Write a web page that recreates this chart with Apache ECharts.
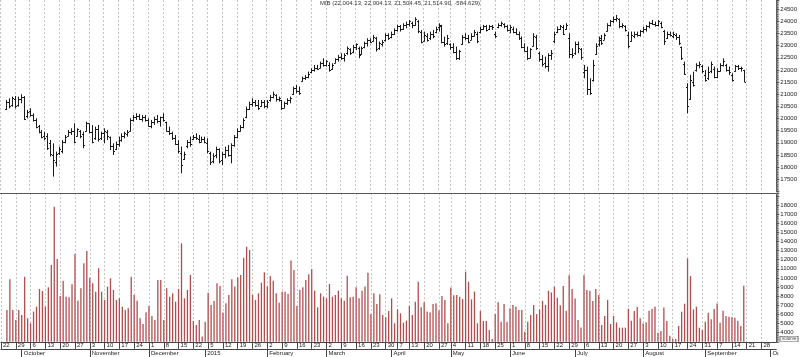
<!DOCTYPE html>
<html><head><meta charset="utf-8">
<script src="https://cdn.jsdelivr.net/npm/echarts@6/dist/echarts.min.js"></script>
<style>html,body{margin:0;padding:0;background:#fff}#c{width:800px;height:357px}</style>
</head><body><div id="c"></div>
<script>
// ---- calendar (categories: trading days of Borsa Italiana) ----
const firstDay = '2014-09-22';
const lastDay = '2015-10-05';
const holidays = ['2014-12-24','2014-12-25','2014-12-26','2014-12-31','2015-01-01','2015-04-03','2015-04-06','2015-05-01'];
const dataStart = '2014-09-24'; // first day that has values below
const monthNames = ['2015','February','March','April','May','June','July','August','September','October','November','December'];
const titleText = 'MIB (22,004.13, 22,004.13, 21,504.45, 21,514.90, -584.629)';

// ---- daily values from 2014-09-24 to 2015-09-18 ----
const opens = [
20400,20700,20550,20800,20550,20800,20900,20100,20300,20150,
19950,19700,19450,19300,19300,19000,18500,18200,18600,18650,
19050,19300,19450,19500,19300,19500,19350,19500,19800,19450,
19200,19550,19200,19400,19450,19250,18850,18750,18950,19100,
19300,19350,19500,19950,20050,20100,20000,20080,19950,19700,
19850,20000,19900,20050,19850,19500,19400,19200,18950,18600,
18350,18850,19050,19150,19250,19150,19050,19150,19000,18600,
18250,18500,18750,18300,18550,18700,18500,18900,19250,19500,
19650,20050,20400,20600,20700,20550,20500,20700,20500,20750,
20900,20950,20800,20750,20450,20650,20750,21000,21250,21150,
21550,21650,21700,21900,22000,22100,22100,22300,22200,22200,
22050,22300,22450,22550,22500,22700,22850,22750,22950,22900,
22650,22950,23100,23250,23200,23300,22900,23050,23250,23450,
23350,23500,23650,23800,23700,23850,23900,23950,23850,24000,
23550,23200,23400,23300,23500,23550,23750,23800,23150,23100,
23050,22950,22750,22500,23050,23350,23300,23250,23400,23500,
23550,23700,23800,23700,23800,23500,23750,23850,23900,23800,
23650,23700,23550,23500,23300,22950,22800,22500,23000,23350,
22700,22450,22300,22150,22600,23200,23550,23700,23750,23700,
23300,22650,22700,23050,22850,21900,22000,21200,21600,22650,
23050,23250,23250,23600,23850,24000,24100,24100,23800,23800,
23450,23200,23400,23500,23450,23600,23700,23800,23950,23900,
23850,23950,23600,23300,23500,23400,23450,23350,22950,22250,
21300,20800,21500,22000,22200,22150,21800,21650,21950,22050,
21700,21950,22200,22200,22000,21800,21950,22150,22100,22004.13];
const highs = [
20765,20830,20900,20930,20900,20998,20920,20353,20420,20216,
20010,19735,19529,19460,19392,19117,18980,18637,18843,19117,
19323,19529,19598,19804,19598,19529,19460,19872,19804,19735,
19667,19735,19460,19598,19529,19255,18980,19050,19255,19392,
19460,19529,20010,20147,20216,20190,20147,20147,20010,19941,
20078,20147,20078,20216,19872,19667,19460,19323,19117,18843,
18637,19117,19255,19323,19392,19323,19255,19255,19186,18637,
18568,18843,18775,18637,18843,18912,18980,19323,19598,19735,
20010,20490,20696,20833,20765,20765,20765,20760,20765,20970,
21108,21000,20902,20765,20696,20833,20902,21314,21383,21314,
21726,21795,21932,22070,22207,22207,22344,22481,22413,22320,
22276,22481,22619,22687,22687,22962,22893,23030,23099,22960,
22962,23168,23305,23305,23442,23360,23168,23236,23511,23511,
23580,23717,23854,23854,23923,23992,24060,23992,24170,24050,
23648,23580,23511,23580,23648,23786,23923,23854,23374,23442,
23099,23099,22962,22825,23442,23511,23442,23511,23648,23580,
23786,23854,23854,23854,23854,23580,23923,23992,23923,23854,
23854,23786,23717,23580,23380,23099,22962,22893,23511,23442,
22756,22619,22550,22687,22825,23580,23786,23854,23854,23923,
23511,22893,23168,23168,22900,22207,22138,21657,22413,23099,
23374,23442,23511,23923,24060,24198,24266,24120,23923,23840,
23580,23580,23580,23580,23648,23786,23854,23992,24060,23992,
24060,23992,23648,23580,23580,23580,23511,23442,22962,22344,
21451,21795,21932,22276,22344,22207,22001,22138,22344,22138,
22070,22276,22481,22250,22138,21864,22207,22207,22138,22004.13];
const lows = [
20353,20420,20490,20420,20490,20628,19941,20010,20078,19873,
19598,19392,19186,19117,18706,18431,17607,18019,18500,18568,
18980,19255,19323,18980,19255,19186,18775,19460,19392,18980,
19117,19050,19117,18980,19117,18706,18500,18706,18843,19050,
19186,19255,19460,19873,19941,19941,19873,19873,19667,19598,
19735,19804,19667,19873,19460,19323,19117,18912,18568,17745,
18294,18775,18843,19117,19117,18980,19020,18980,18568,18088,
18156,18363,18156,18088,18363,18431,18156,18843,19186,19460,
19598,20010,20353,20490,20490,20353,20490,20422,20422,20696,
20833,20696,20696,20353,20422,20559,20628,20970,21039,20970,
21520,21589,21657,21864,21932,22001,22070,22138,22138,21932,
22001,22276,22344,22413,22344,22619,22619,22687,22825,22481,
22619,22893,22962,23099,23168,22756,22825,22962,23168,23236,
23305,23442,23580,23580,23648,23717,23786,23717,23820,23511,
23099,23168,23168,23236,23305,23511,23580,23099,22962,23030,
22825,22687,22413,22413,23030,23236,23099,23236,23374,23099,
23511,23648,23580,23648,23648,23305,23717,23786,23717,23580,
23511,23511,23442,23236,22893,22756,22413,22481,22962,22825,
22344,22138,22070,21932,22413,23099,23511,23648,23442,23648,
22481,22481,22619,22687,22413,21657,20970,20970,21520,22619,
22962,23030,23236,23580,23786,23923,23992,23717,23717,23580,
22893,23168,23305,23374,23374,23511,23580,23717,23854,23786,
23786,23717,23030,23280,23374,23305,23236,23030,22413,21795,
20216,20765,21314,21932,22070,21864,21520,21589,21864,21657,
21657,21932,22138,21932,21795,21520,21932,22001,21932,21504.45];
const closes = [
20700,20500,20850,20500,20800,20900,20000,20250,20150,19950,
19650,19450,19250,19200,18800,18550,18300,18550,18750,19050,
19250,19450,19500,19050,19550,19300,18900,19800,19450,19050,
19550,19150,19400,19500,19300,18850,18650,18950,19100,19300,
19400,19450,19950,20050,20100,20000,20080,19950,19700,19850,
20000,19900,20050,19950,19500,19400,19200,18950,18650,18100,
18550,19050,18950,19250,19200,19050,19150,19050,18650,18200,
18450,18750,18250,18550,18700,18500,18900,19250,19500,19650,
19950,20400,20600,20700,20550,20450,20700,20500,20700,20900,
21000,20800,20850,20450,20650,20750,20850,21250,21150,21050,
21650,21700,21850,22000,22100,22050,22300,22200,22350,22000,
22200,22450,22550,22500,22600,22900,22700,22950,23050,22600,
22900,23100,23250,23150,23350,22850,23100,23150,23450,23300,
23500,23650,23800,23700,23850,23900,24000,23850,24100,23600,
23150,23450,23250,23500,23400,23700,23850,23150,23050,23300,
22950,22750,22500,22800,23350,23300,23150,23400,23550,23200,
23700,23800,23650,23800,23750,23400,23850,23950,23800,23650,
23750,23550,23500,23300,22950,22800,22500,22850,23400,22900,
22450,22250,22150,22600,22700,23500,23700,23800,23500,23850,
22650,22600,23050,22900,22550,22000,21200,21050,22200,23000,
23300,23100,23450,23850,24000,24100,24150,23800,23850,23650,
23000,23450,23500,23450,23600,23700,23800,23950,23900,23850,
24000,23750,23200,23500,23450,23500,23350,23100,22500,21850,
20500,21600,21400,22200,22250,21950,21600,21900,22250,21700,
21950,22200,22350,22000,21900,21600,22150,22100,22100,21514.90];
const volumes = [
6490,9850,6490,5390,6490,5940,10140,5580,5030,6310,
6850,8790,8570,6850,8970,11420,17810,12080,8020,9700,
7950,7880,9300,12630,7510,8860,11600,12955,10030,9410,
8500,11060,8500,7590,9050,9960,8680,7590,7770,6850,
6490,6670,10140,8130,7510,5580,4960,6230,6930,5830,
5390,9780,9780,5390,8860,7950,8320,7400,8790,13800,
7770,8680,10325,5280,4850,5390,3570,5210,8390,7040,
7480,9410,9120,6200,7220,8130,9850,9050,10070,10330,
12220,13430,13060,8130,7590,8320,9480,10620,9050,10210,
9700,8320,7290,8500,8500,8240,11900,10870,6930,8680,
8970,9780,10400,10980,8610,6780,8320,7950,7770,9340,
7950,8130,8610,7770,7510,10250,7880,7950,8970,7770,
8610,9050,10580,6050,8320,7150,8210,5940,5690,6380,
7770,5030,6560,6120,5100,5320,6930,5940,7400,9590,
6780,7330,6310,6200,7150,7220,6420,8020,7590,5030,
8940,8100,8130,7950,7690,10690,9590,7660,8500,5030,
6380,5280,5280,4300,3300,6050,7330,5210,7150,5210,
6670,7040,6850,6490,6480,4100,5200,5930,7030,6040,
6550,7500,7030,8600,8420,9040,7830,7000,9110,6400,
10310,8780,7760,5390,4580,10310,8670,8600,7470,8780,
8120,4840,5820,7580,4950,5820,5130,4550,4550,4550,
6630,5310,6370,6850,5570,5020,5130,6410,6590,6850,
4000,4180,6770,5280,3670,3310,3310,4730,6300,7180,
12140,10200,6550,6850,4550,4290,5200,6190,5460,6590,
7210,5090,6410,5820,5750,5680,5640,5310,4730,9150];

// ---- build categories ----
function ymd(d){return d.toISOString().slice(0,10);}
const cats = [];
(function(){
  let d = new Date(firstDay+'T00:00:00Z');
  const end = new Date(lastDay+'T00:00:00Z');
  while(d <= end){
    const dow = d.getUTCDay();
    const s = ymd(d);
    if(dow !== 0 && dow !== 6 && holidays.indexOf(s) < 0) cats.push(s);
    d = new Date(d.getTime()+86400000);
  }
})();
function weekKey(s){const d=new Date(s+'T00:00:00Z');const o=(d.getUTCDay()+6)%7;return ymd(new Date(d.getTime()-o*86400000));}
const lastIdx = cats.length-1;
const isWeekStart = [];
(function(){
  let prev = -99;
  cats.forEach((s,k)=>{
    const ws = k===0 || weekKey(s)!==weekKey(cats[k-1]);
    const keep = ws && (k - prev >= 3);
    if(keep) prev = k;
    isWeekStart.push(keep);
  });
})();
const isMonthStart = cats.map((s,k)=> k>0 && s.slice(5,7)!==cats[k-1].slice(5,7));
const off = cats.indexOf(dataStart);

const ohlcData = [], volData = [];
for(let j=0;j<opens.length;j++){
  ohlcData.push([j+off, opens[j], highs[j], lows[j], closes[j]]);
  volData.push([j+off, volumes[j]]);
}

const weekFn = (idx)=> idx<lastIdx && isWeekStart[idx];
const monthFn = (idx)=> idx<lastIdx && isMonthStart[idx];
const FONT = '"Liberation Sans", Arial, sans-serif';
const dash = {color:'#c4c4c4', width:1, type:[2,2]};

const chart = echarts.init(document.getElementById('c'), null, {renderer:'canvas'});
chart.setOption({
  animation:false,
  backgroundColor:'#fff',
  textStyle:{fontFamily:FONT},
  title:{text:titleText, left:'center', top:0, padding:0, z:20,
    textStyle:{fontSize:6, fontWeight:'normal', color:'#333', fontFamily:FONT}},
  grid:[
    {left:-4.22, right:22.1, top:0, height:191.4},
    {left:-4.22, right:22.1, top:193.13, height:148.67}
  ],
  xAxis:[
    {gridIndex:0, type:'category', data:cats, boundaryGap:false, position:'bottom', offset:1.6,
     axisLine:{show:true, onZero:false, lineStyle:{color:'#555', width:1}},
     axisTick:{show:false}, axisLabel:{show:false},
     splitLine:{show:true, interval:weekFn, lineStyle:dash}},
    {gridIndex:1, type:'category', data:cats, boundaryGap:false, position:'bottom',
     axisLine:{show:true, onZero:false, lineStyle:{color:'#444', width:1}},
     axisTick:{show:true, interval:weekFn, length:7, lineStyle:{color:'#444'}},
     axisLabel:{show:true, interval:weekFn,
       formatter:(v)=>String(+v.slice(8,10)), align:'left', padding:[0,0,0,2], margin:1,
       fontSize:6, color:'#222', fontFamily:FONT},
     splitLine:{show:true, interval:weekFn, lineStyle:dash}},
    {gridIndex:1, type:'category', data:cats, boundaryGap:false, position:'bottom', offset:7.6,
     axisLine:{show:true, onZero:false, lineStyle:{color:'#444', width:1}},
     axisTick:{show:true, interval:monthFn, length:8, lineStyle:{color:'#444'}},
     axisLabel:{show:true, interval:monthFn,
       formatter:(v)=>monthNames[+v.slice(5,7)-1], align:'left', padding:[0,0,0,2], margin:1,
       fontSize:6, color:'#222', fontFamily:FONT},
     splitLine:{show:false}}
  ],
  yAxis:[
    {gridIndex:0, type:'value', position:'right', min:17000, max:24880, interval:500,
     axisLine:{show:true, lineStyle:{color:'#555'}},
     axisTick:{show:true, length:3, lineStyle:{color:'#555'}},
     minorTick:{show:true, splitNumber:5, length:2, lineStyle:{color:'#777'}},
     axisLabel:{fontSize:6, color:'#222', margin:4, fontFamily:FONT,
       formatter:(v)=> (v%500===0 && v>=17500 && v<=24500) ? String(v) : ''},
     splitLine:{show:false}},
    {gridIndex:1, type:'value', position:'right', min:3000, max:19300, interval:1000,
     axisLine:{show:true, lineStyle:{color:'#555'}},
     axisTick:{show:true, length:3, lineStyle:{color:'#555'}},
     minorTick:{show:true, splitNumber:4, length:2, lineStyle:{color:'#777'}},
     axisLabel:{fontSize:6, color:'#222', margin:4, fontFamily:FONT,
       formatter:(v)=> (v%1000===0 && v>=4000 && v<=18000) ? String(v) : ''},
     splitLine:{show:false}}
  ],
  series:[
    {type:'custom', name:'MIB', xAxisIndex:0, yAxisIndex:0, clip:true,
     data:ohlcData, encode:{x:0, y:[1,2,3,4]},
     renderItem:function(params, api){
       const i = api.value(0);
       const pO = api.coord([i, api.value(1)]);
       const pH = api.coord([i, api.value(2)]);
       const pL = api.coord([i, api.value(3)]);
       const pC = api.coord([i, api.value(4)]);
       const x = Math.round(pO[0]) + 0.5;
       const st = {stroke:'#1c1c1c', lineWidth:1};
       const yo = Math.round(pO[1]) + 0.5, yc = Math.round(pC[1]) + 0.5;
       return {type:'group', children:[
         {type:'line', shape:{x1:x, y1:pH[1], x2:x, y2:pL[1]}, style:st},
         {type:'line', shape:{x1:x-1.5, y1:yo, x2:x, y2:yo}, style:st},
         {type:'line', shape:{x1:x, y1:yc, x2:x+1.5, y2:yc}, style:st}
       ]};
     }},
    {type:'bar', name:'Volume', xAxisIndex:1, yAxisIndex:1, data:volData,
     barWidth:1.3, itemStyle:{color:'#b04e4e'}}
  ],
  graphic:[
    {type:'line', shape:{x1:777.9, y1:0, x2:777.9, y2:343}, style:{stroke:'#555', lineWidth:1}, z:50},
    {type:'rect', shape:{x:778.4, y:342.5, width:22, height:15}, style:{fill:'#fff'}, z:100},
    {type:'rect', shape:{x:779.5, y:336.5, width:19, height:5}, style:{fill:'#fff', stroke:'#777', lineWidth:0.6}, z:101},
    {type:'text', style:{text:'[Volume]', x:789, y:339, fontSize:4.5, fill:'#444', align:'center', verticalAlign:'middle', fontFamily:FONT}, z:102}
  ]
});
</script>
</body></html>
